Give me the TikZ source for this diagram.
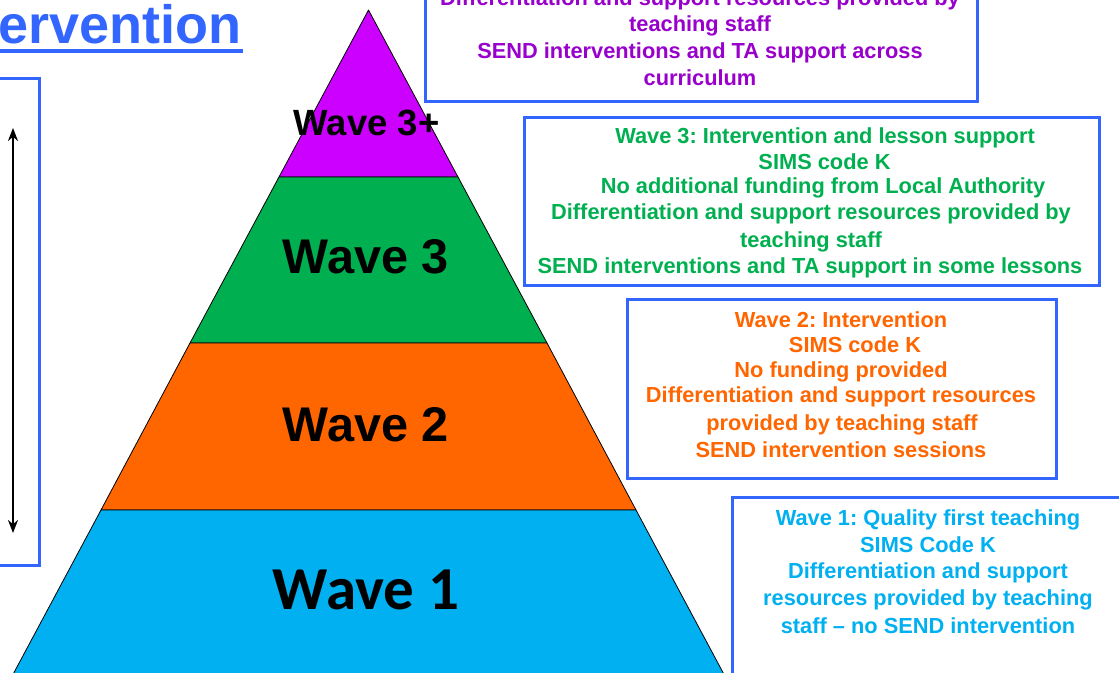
\documentclass[tikz,border=0pt]{standalone}
\usepackage{fontspec}
\setmainfont{Liberation Sans}
\newfontfamily\calibfont{Carlito}
\usetikzlibrary{arrows.meta}
\definecolor{bordblue}{RGB}{51,102,255}
\definecolor{purptext}{RGB}{153,0,204}
\definecolor{purpfill}{RGB}{204,0,255}
\definecolor{wgreen}{RGB}{0,176,80}
\definecolor{worange}{RGB}{255,102,0}
\definecolor{wcyan}{RGB}{0,176,240}
\frenchspacing
\begin{document}
\begin{tikzpicture}[x=1pt,y=-1pt,
  boxline/.style={draw=bordblue,line width=3pt},
  ln/.style={anchor=base,inner sep=0pt,font=\fontsize{21.8}{26}\selectfont\bfseries},
  band/.style={draw=black,line width=0.8pt,line join=round},
  wavelbl/.style={anchor=base,inner sep=0pt,text=black,font=\fontsize{48.7}{50}\selectfont\bfseries}]
\useasboundingbox (0,0) rectangle (1119,672);
\clip (0,0) rectangle (1119,672);
\fill[white] (0,0) rectangle (1119,672);

% pyramid
\filldraw[band,fill=purpfill] (368.5,10) -- (458,177) -- (279,177) -- cycle;
\filldraw[band,fill=wgreen] (279,177) -- (458,177) -- (547,343) -- (190,343) -- cycle;
\filldraw[band,fill=worange] (190,343) -- (547,343) -- (636,510) -- (101,510) -- cycle;
\filldraw[band,fill=wcyan] (101,510) -- (636,510) -- (727,680) -- (10,680) -- cycle;

\node[wavelbl,font=\fontsize{36.5}{40}\selectfont\bfseries] (w3p) at (366.5,135) {Wave 3+};
\node[wavelbl] (w3) at (366,273) {Wave 3};
\node[wavelbl] (w2) at (366,441) {Wave 2};
\node[wavelbl,font=\fontsize{61}{64}\selectfont\calibfont\bfseries] (w1) at (366,609) {Wave 1};

% title
\node[anchor=base west,inner sep=0pt,text=bordblue,font=\fontsize{54}{60}\selectfont\bfseries] (title) at (-2,43) {ervention};
\draw[bordblue,line width=4.5pt] (0,51) -- (243,51);

% left box with arrow
\draw[boxline] (-10,78) rectangle (39,565);
\coordinate (atop) at (13,128);
\coordinate (abot) at (13,533);
\draw[line width=2.5pt,{Stealth[length=13pt,width=10pt]}-{Stealth[length=13pt,width=10pt]}] (atop) -- (abot);

% info boxes
\draw[boxline] (425,-10) rectangle (977,101);
\draw[boxline] (524,117) rectangle (1099,285);
\draw[boxline] (627,299) rectangle (1056,478);
\draw[boxline] (732,497) rectangle (1130,690);

% purple box text
\begin{scope}[every node/.append style={ln,text=purptext}]
\node (p1) at (700,5) {Differentiation and support resources provided by};
\node (p2) at (700,31) {teaching staff};
\node (p3) at (700,58) {SEND interventions and TA support across};
\node (p4) at (700,85) {curriculum};
\end{scope}

% green box text
\begin{scope}[every node/.append style={ln,text=wgreen}]
\node (g1) at (825,143) {Wave 3: Intervention and lesson support};
\node (g2) at (824.5,169) {SIMS code K};
\node (g3) at (823,193) {No additional funding from Local Authority};
\node (g4) at (811,219) {Differentiation and support resources provided by};
\node (g5) at (811,247) {teaching staff};
\node (g6) at (810,273) {SEND interventions and TA support in some lessons};
\end{scope}

% orange box text
\begin{scope}[every node/.append style={ln,text=worange}]
\node (o1) at (841,327) {Wave 2: Intervention};
\node (o2) at (855,352) {SIMS code K};
\node (o3) at (841,377) {No funding provided};
\node (o4) at (841,402) {Differentiation and support resources};
\node (o5) at (842,430) {provided by teaching staff};
\node (o6) at (841,457) {SEND intervention sessions};
\end{scope}

% cyan box text
\begin{scope}[every node/.append style={ln,text=wcyan}]
\node (c1) at (928,525) {Wave 1: Quality first teaching};
\node (c2) at (928,552) {SIMS Code K};
\node (c3) at (928,578) {Differentiation and support};
\node (c4) at (928,605) {resources provided by teaching};
\node (c5) at (928,633) {staff -- no SEND intervention};
\end{scope}
\end{tikzpicture}
\end{document}
